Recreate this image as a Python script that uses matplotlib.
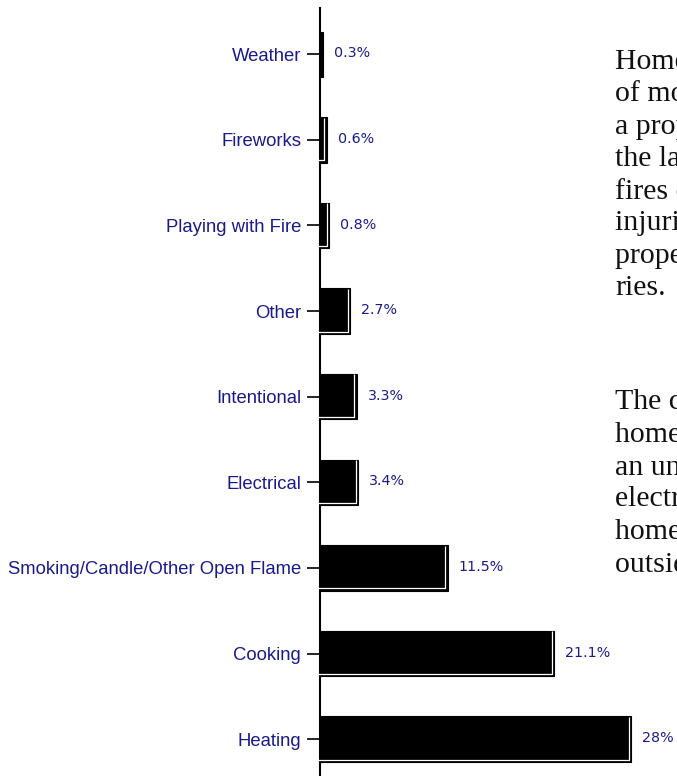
import matplotlib
matplotlib.use("Agg")
import matplotlib.pyplot as plt
import matplotlib.transforms as mtransforms

categories = ["Weather", "Fireworks", "Playing with Fire", "Other", "Intentional",
              "Electrical", "Smoking/Candle/Other Open Flame", "Cooking", "Heating"]
values = [0.3, 0.6, 0.8, 2.7, 3.3, 3.4, 11.5, 21.1, 28.0]
value_labels = ["0.3%", "0.6%", "0.8%", "2.7%", "3.3%", "3.4%", "11.5%", "21.1%", "28%"]

para1 = ["Home structure fires", "of most concern, with", "a proportion of", "the largest number of",
         "fires causing deaths,", "injuries and", "property losses in", "ries."]
para2 = ["The causes of", "home fires vary from", "an unattended stove,", "electrical faults,",
         "home heating and", "outside sources."]

W, H = 677, 776
fig = plt.figure(figsize=(W / 100, H / 100), dpi=100)
fig.patch.set_facecolor("white")

ax_left, ax_right, ax_top, ax_bottom = 320, 677, 8, 776
ax = fig.add_axes([ax_left / W, 1 - ax_bottom / H, (ax_right - ax_left) / W, (ax_bottom - ax_top) / H])
px_per_unit = 11.1
ax.set_xlim(0, (ax_right - ax_left) / px_per_unit)
ax.set_ylim(len(categories) - 1 + 0.43, -0.54)

navy = "#1a1a8c"
ypos = list(range(len(categories)))
bar_h = 0.53
ax.barh(ypos, values, height=bar_h, color="black", edgecolor="black", linewidth=0.8, zorder=2)

# white inner highlight lines (right and bottom edges)
off = mtransforms.ScaledTranslation(-2.2 / 100, 2.2 / 100, fig.dpi_scale_trans)
tr = ax.transData + off
for y, v in zip(ypos, values):
    if v < 0.5:
        continue
    top = y - bar_h / 2
    bot = y + bar_h / 2
    ax.plot([0, v, v], [bot, bot, top + 0.03], color="white", linewidth=0.9, transform=tr,
            zorder=3, solid_capstyle="butt", clip_on=False)

# value labels
lab_off = mtransforms.ScaledTranslation(11 / 100, 0, fig.dpi_scale_trans)
for y, v, s in zip(ypos, values, value_labels):
    ax.text(v, y - 0.01, s, transform=ax.transData + lab_off, ha="left", va="center",
            fontsize=10.3, color=navy, family="DejaVu Sans")

ax.set_yticks(ypos)
ax.set_yticklabels(categories, fontsize=13.3, color=navy, family="Liberation Sans")
ax.set_xticks([])
for s in ["top", "right", "bottom"]:
    ax.spines[s].set_visible(False)
ax.spines["left"].set_linewidth(1.5)
ax.tick_params(axis="y", direction="out", length=9.5, width=1.2, pad=4, colors="black",
               labelcolor=navy)
ax.set_facecolor("none")

# right-hand paragraph text (clipped by figure edge, as in the reference)
x0 = 615 / W
for i, line in enumerate(para1):
    fig.text(x0, 1 - (62 + i * 32.3) / H, line, fontsize=21.5, family="Liberation Serif",
             color="#111111", ha="left", va="center")
for i, line in enumerate(para2):
    fig.text(x0, 1 - (402 + i * 32.6) / H, line, fontsize=21.5, family="Liberation Serif",
             color="#111111", ha="left", va="center")

fig.savefig("out.png", dpi=100, facecolor="white")
